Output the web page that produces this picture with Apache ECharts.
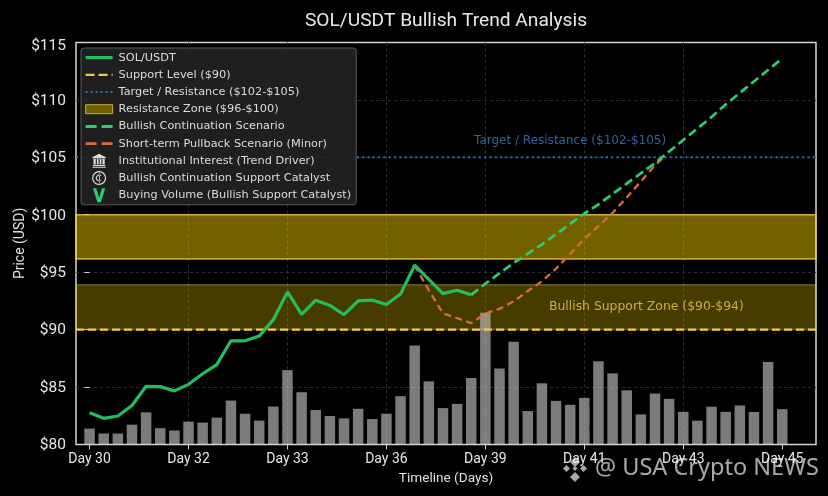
<!DOCTYPE html>
<html>
<head>
<meta charset="utf-8">
<style>html,body{margin:0;padding:0;background:#000}#c{width:828px;height:496px}</style>
<script src="https://cdn.jsdelivr.net/npm/echarts@6/dist/echarts.min.js"></script>
</head>
<body>
<div id="c"></div>
<script>
const tickIndexes = [0, 7, 14, 21, 28, 35, 42, 49];
const tickLabels = ['Day 30', 'Day 32', 'Day 33', 'Day 36', 'Day 39', 'Day 41', 'Day 43', 'Day 45'];
const solPrice = [82.76, 82.27, 82.47, 83.39, 85.06, 85.03, 84.66, 85.23, 86.15, 86.95, 89.02, 89.02, 89.43, 90.86, 93.28, 91.32, 92.56, 92.10, 91.29, 92.50, 92.56, 92.18, 93.10, 95.60, 94.37, 93.13, 93.42, 93.02];
const volumeBars = [81.38, 80.95, 80.95, 81.72, 82.79, 81.41, 81.21, 81.98, 81.90, 82.33, 83.82, 82.67, 82.07, 83.30, 86.47, 84.54, 82.99, 82.47, 82.27, 83.10, 82.21, 82.67, 84.20, 88.62, 85.49, 83.16, 83.53, 85.78, 91.47, 86.61, 88.94, 82.90, 85.32, 83.79, 83.45, 84.05, 87.24, 86.18, 84.71, 82.61, 84.43, 83.97, 82.84, 82.07, 83.28, 82.84, 83.39, 82.82, 87.18, 83.07];
const bullishX = [27, 28, 29, 30, 31, 32, 33, 34, 35, 36, 37, 38, 39, 40, 41, 42, 43, 44, 45, 46, 47, 48, 49];
const bullishY = [93.02, 94.0, 94.9, 95.8, 96.6, 97.4, 98.3, 99.2, 100.1, 100.9, 101.8, 102.7, 103.6, 104.5, 105.5, 106.5, 107.5, 108.5, 109.6, 110.6, 111.6, 112.6, 113.6];
const pullbackX = [23, 24, 25, 26, 27, 28, 29, 30, 31, 32, 33, 34, 35, 36, 37, 38, 39, 40, 40.6];
const pullbackY = [95.6, 93.42, 91.4, 91.0, 90.55, 91.4, 91.8, 92.45, 93.35, 94.2, 95.3, 96.6, 97.9, 99.0, 100.15, 101.5, 102.9, 104.3, 105.0];
const supportLevel = 90;
const targetLevel = 105;
const resistanceZone = [96.15, 100];
const supportZone = [90, 93.9];
const xMin = -0.96, xMax = 51.39;

const names = {
  sol: 'SOL/USDT', sup: 'Support Level ($90)', tgt: 'Target / Resistance ($102-$105)',
  res: 'Resistance Zone ($96-$100)', bull: 'Bullish Continuation Scenario',
  pull: 'Short-term Pullback Scenario (Minor)', inst: 'Institutional Interest (Trend Driver)',
  cat: 'Bullish Continuation Support Catalyst', buy: 'Buying Volume (Bullish Support Catalyst)'
};
const bankIcon = 'path://M12 0L24 6V8H0V6ZM2 9H6V19H2ZM8 9H11V19H8ZM13 9H16V19H13ZM18 9H22V19H18ZM1 20H23V22H1ZM0 23H24V25H0Z';
const coinIcon = 'path://M12 0A12 12 0 1 1 11.99 0ZM12 2A10 10 0 1 0 12.01 2ZM16 7.2A6 6 0 1 0 16 16.8L15 15.3A4.2 4.2 0 1 1 15 8.7ZM12 4H13.4V20H12Z';
const vIcon = 'path://M0 0H6L11 17L16 0H22L14 25H8Z';
const swatchIcon = 'path://M0 0H27V9H0Z';
const txt = 'Roboto, sans-serif';
const noMarker = {color: 'transparent', borderColor: 'transparent', borderWidth: 0};
const wm = 'rgba(255,255,255,0.66)';

const chart = echarts.init(document.getElementById('c'), null, {renderer: 'canvas'});
chart.setOption({
  animation: false,
  backgroundColor: '#000',
  title: {
    text: 'SOL/USDT Bullish Trend Analysis', left: 441, top: 7, textAlign: 'center',
    textStyle: {color: '#e8e8e8', fontSize: 19.2, fontWeight: 'normal', fontFamily: txt}
  },
  grid: {left: 76, right: 12, top: 42.4, bottom: 51.6, outerBoundsMode: 'none', show: true, borderColor: '#d4d4d4', borderWidth: 1.5},
  legend: {
    left: 81, top: 48, orient: 'vertical', itemWidth: 27, itemHeight: 14, itemGap: 0,
    padding: [1, 5, 1, 3], backgroundColor: 'rgba(34,34,34,0.92)', borderColor: '#5a5a5a', borderWidth: 1, borderRadius: 3,
    textStyle: {color: '#dcdcdc', fontSize: 11.3, lineHeight: 17.2, fontFamily: 'DejaVu Sans', padding: [0, 0, 0, 1]},
    data: [
      {name: names.sol, itemStyle: noMarker, lineStyle: {width: 3.2}},
      {name: names.sup, itemStyle: noMarker, lineStyle: {width: 2.3, type: [9, 4]}},
      {name: names.tgt, itemStyle: noMarker, lineStyle: {width: 2, type: [2, 3]}},
      {name: names.res, icon: swatchIcon, itemStyle: {color: '#736100', borderColor: '#c4ab3a', borderWidth: 1}},
      {name: names.bull, itemStyle: noMarker, lineStyle: {width: 3, type: [11, 5]}},
      {name: names.pull, itemStyle: noMarker, lineStyle: {width: 2.6, type: [11, 5]}},
      {name: names.inst, icon: bankIcon, itemStyle: {color: '#dcdcdc', borderWidth: 0}},
      {name: names.cat, icon: coinIcon, itemStyle: {color: '#dcdcdc', borderWidth: 0}},
      {name: names.buy, icon: vIcon, itemStyle: {color: '#2ecc71', borderWidth: 0}}
    ]
  },
  xAxis: {
    type: 'value', min: xMin, max: xMax,
    name: 'Timeline (Days)', nameLocation: 'middle', nameGap: 25,
    nameTextStyle: {color: '#e0e0e0', fontSize: 13.6, fontFamily: txt},
    axisLine: {show: false},
    axisTick: {show: true, length: 5, customValues: tickIndexes, lineStyle: {color: '#d4d4d4', width: 1}},
    axisLabel: {
      show: true, color: '#e8e8e8', fontSize: 14, fontFamily: txt, margin: 8, customValues: tickIndexes,
      formatter: v => tickLabels[tickIndexes.indexOf(v)]
    },
    splitLine: {show: true, showMinLine: false, showMaxLine: false, lineStyle: {color: '#2e2e2e', type: [3, 3], width: 1}}
  },
  yAxis: {
    type: 'value', min: 80, max: 115, interval: 5,
    name: 'Price (USD)', nameLocation: 'middle', nameGap: 49, nameMoveOverlap: false,
    nameTextStyle: {color: '#e0e0e0', fontSize: 14, fontFamily: txt},
    axisLine: {show: false},
    axisTick: {show: true, length: 5, lineStyle: {color: '#d4d4d4', width: 1}},
    axisLabel: {
      color: '#e8e8e8', fontSize: 15.5, fontFamily: txt, margin: 10, padding: [2, 0, 0, 0],
      rich: {top: {color: '#e8e8e8', fontSize: 15.5, fontFamily: txt, padding: [5, 0, 0, 0]}},
      formatter: v => v === 115 ? '{top|$' + v + '}' : '$' + v
    },
    splitLine: {show: true, showMinLine: false, showMaxLine: false, lineStyle: {color: '#2e2e2e', type: [3, 3], width: 1}}
  },
  series: [
    {
      name: names.res, type: 'line', data: [], z: 1,
      markArea: {silent: true, itemStyle: {color: 'rgba(255,215,0,0.45)', borderColor: 'rgba(240,210,70,0.8)', borderWidth: 1.5},
        data: [[{yAxis: resistanceZone[0], xAxis: xMin}, {yAxis: resistanceZone[1], xAxis: xMax}]]}
    },
    {
      name: 'Support Zone', type: 'line', data: [], z: 1,
      markArea: {silent: true, itemStyle: {color: 'rgba(255,215,0,0.28)', borderColor: 'rgba(240,210,70,0.35)', borderWidth: 1.5},
        data: [[{yAxis: supportZone[0], xAxis: xMin}, {yAxis: supportZone[1], xAxis: xMax}]]}
    },
    {
      name: 'Volume', type: 'bar', barWidth: 10.5, z: 2,
      itemStyle: {color: 'rgba(205,205,205,0.6)'},
      data: volumeBars.map((v, i) => [i, v])
    },
    {
      name: names.sup, type: 'line', symbol: 'none', z: 3, itemStyle: {color: '#f2cb45'},
      lineStyle: {color: '#f2cb45', width: 2.3, type: [8, 4]},
      data: [[xMin, supportLevel], [xMax, supportLevel]]
    },
    {
      name: names.tgt, type: 'line', symbol: 'none', z: 3, itemStyle: {color: '#2f6db5'},
      lineStyle: {color: '#2f6db5', width: 2, type: [2, 3.3]},
      data: [[xMin, targetLevel], [xMax, targetLevel]]
    },
    {
      name: names.pull, type: 'line', symbol: 'none', z: 4, itemStyle: {color: '#dd6a3d'},
      lineStyle: {color: '#dd6a3d', width: 2.3, type: [7, 4.5]},
      data: pullbackX.map((x, i) => [x, pullbackY[i]])
    },
    {
      name: names.bull, type: 'line', symbol: 'none', z: 5, itemStyle: {color: '#2ecc71'},
      lineStyle: {color: '#2ecc71', width: 2.7, type: [9, 4.5]},
      data: bullishX.map((x, i) => [x, bullishY[i]])
    },
    {
      name: names.sol, type: 'line', symbol: 'none', z: 6, itemStyle: {color: '#23bd5e'},
      lineStyle: {color: '#23bd5e', width: 3.2},
      data: solPrice.map((v, i) => [i, v])
    },
    {name: names.inst, type: 'line', data: [], itemStyle: {color: '#dcdcdc'}},
    {name: names.cat, type: 'line', data: [], itemStyle: {color: '#dcdcdc'}},
    {name: names.buy, type: 'line', data: [], itemStyle: {color: '#2ecc71'}},
    {
      name: 'Annotations', type: 'scatter', symbolSize: 0, z: 7, silent: true,
      data: [
        {value: [27.2, 106.4], label: {show: true, position: 'right', distance: 0, formatter: 'Target / Resistance ($102-$105)', color: '#3f7ac2', fontSize: 12, fontFamily: 'DejaVu Sans'}},
        {value: [32.5, 92.0], label: {show: true, position: 'right', distance: 0, formatter: 'Bullish Support Zone ($90-$94)', color: '#e6ca50', fontSize: 12.4, fontFamily: 'DejaVu Sans'}}
      ]
    }
  ],
  graphic: [
    {type: 'text', left: 595, top: 456, z: 100, silent: true,
      style: {text: '@ USA Crypto NEWS', fill: wm, font: '23.5px "Noto Sans", sans-serif'}},
    {type: 'group', left: 563, top: 457, z: 100, silent: true, children: [
      {type: 'polygon', shape: {points: [[13, 0], [18, 5], [13, 10], [8, 5]]}, style: {fill: wm}},
      {type: 'polygon', shape: {points: [[4.5, 8], [8, 11.5], [4.5, 15], [1, 11.5]]}, style: {fill: wm}},
      {type: 'polygon', shape: {points: [[21.5, 8], [25, 11.5], [21.5, 15], [18, 11.5]]}, style: {fill: wm}},
      {type: 'polygon', shape: {points: [[13, 9], [15.5, 11.5], [13, 14], [10.5, 11.5]]}, style: {fill: wm}},
      {type: 'polygon', shape: {points: [[13, 15], [18, 20], [13, 25], [8, 20]]}, style: {fill: wm}}
    ]}
  ]
});
</script>
</body>
</html>
